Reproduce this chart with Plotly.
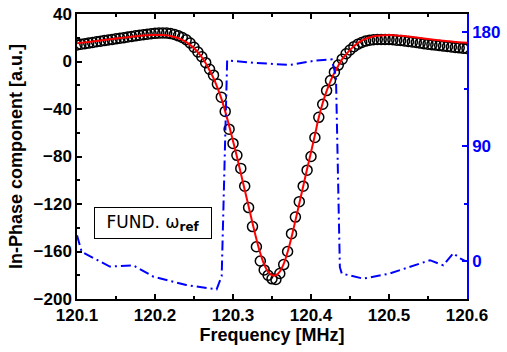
import plotly.graph_objects as go

# Measured frequency sweep (MHz)
freq = [120.100, 120.105, 120.110, 120.115, 120.120, 120.125, 120.130, 120.135, 120.140, 120.145,
        120.150, 120.155, 120.160, 120.165, 120.170, 120.175, 120.180, 120.185, 120.190, 120.195,
        120.200, 120.205, 120.210, 120.215, 120.220, 120.225, 120.230, 120.235, 120.240, 120.245,
        120.250, 120.255, 120.260, 120.265, 120.270, 120.275, 120.280, 120.285, 120.290, 120.295,
        120.300, 120.305, 120.310, 120.315, 120.320, 120.325, 120.330, 120.335, 120.340, 120.345,
        120.350, 120.355, 120.360, 120.365, 120.370, 120.375, 120.380, 120.385, 120.390, 120.395,
        120.400, 120.405, 120.410, 120.415, 120.420, 120.425, 120.430, 120.435, 120.440, 120.445,
        120.450, 120.455, 120.460, 120.465, 120.470, 120.475, 120.480, 120.485, 120.490, 120.495,
        120.500, 120.505, 120.510, 120.515, 120.520, 120.525, 120.530, 120.535, 120.540, 120.545,
        120.550, 120.555, 120.560, 120.565, 120.570, 120.575, 120.580, 120.585, 120.590, 120.595,
        120.600]

# In-phase component, measured (open circles)
inphase = [14.0, 14.5, 15.0, 15.5, 16.0, 16.6, 17.1, 17.6, 18.1, 18.6,
           19.1, 19.6, 20.1, 20.6, 21.1, 21.6, 22.1, 22.6, 23.0, 23.4,
           23.7, 23.9, 24.0, 23.9, 23.5, 22.8, 21.6, 20.2, 18.3, 15.6,
           12.0, 8.0, 4.0, -1.0, -6.5, -11.5, -19.0, -30.0, -42.0, -57.0,
           -69.0, -79.0, -90.0, -105.0, -123.0, -139.0, -156.0, -168.0, -175.5, -180.0,
           -183.0, -183.5, -178.5, -171.0, -160.0, -145.0, -131.0, -118.0, -105.0, -91.5,
           -80.0, -64.0, -47.0, -36.0, -24.5, -16.0, -9.0, -3.0, 2.0, 6.5,
           9.7, 12.5, 14.5, 16.0, 17.2, 17.9, 18.3, 18.5, 18.6, 18.6,
           18.5, 18.3, 18.0, 17.7, 17.3, 16.9, 16.5, 16.0, 15.5, 15.0,
           14.6, 14.2, 13.8, 13.4, 13.0, 12.6, 12.2, 11.8, 11.5, 11.2,
           11.0]

# Fit (red line)
fit = [15.3, 15.7, 16.1, 16.5, 16.9, 17.3, 17.7, 18.1, 18.5, 18.9,
       19.3, 19.7, 20.1, 20.5, 20.9, 21.3, 21.6, 21.9, 22.1, 22.3,
       22.4, 22.4, 22.3, 22.0, 21.5, 20.7, 19.6, 18.2, 16.3, 14.0,
       11.2, 7.7, 3.6, -1.5, -7.5, -14.0, -22.0, -31.0, -42.0, -54.0,
       -67.0, -80.0, -94.0, -108.0, -122.0, -136.0, -149.5, -161.5, -171.0, -177.0,
       -180.0, -180.0, -177.0, -170.5, -160.5, -148.0, -134.0, -119.5, -105.0, -90.5,
       -76.5, -62.0, -47.0, -35.0, -25.0, -16.5, -9.5, -3.5, 2.0, 6.0,
       9.8, 12.9, 15.5, 17.5, 19.0, 20.2, 21.0, 21.6, 22.0, 22.2,
       22.3, 22.2, 22.0, 21.7, 21.4, 21.0, 20.6, 20.2, 19.8, 19.4,
       19.0, 18.6, 18.2, 17.8, 17.4, 17.1, 16.8, 16.5, 16.2, 16.0,
       15.8]

# Phase (blue dash-dot, right axis, degrees)
phase_f = [120.100, 120.106, 120.142, 120.172, 120.198, 120.240, 120.279, 120.2855, 120.2885,
           120.2925, 120.330, 120.350, 120.373, 120.407, 120.4265, 120.432, 120.4355, 120.437,
           120.4395, 120.467, 120.501, 120.5525, 120.5695, 120.5825, 120.591, 120.5975]
phase = [20, 7, -4.5, -3.5, -12.5, -19, -22.5, -12, 60,
         157.5, 155.5, 155, 154, 157.5, 158.3, 145, 50, -5,
         -10, -14, -10, 0.5, -3.5, 6, 2, 0]

x_ticks = [120.1, 120.2, 120.3, 120.4, 120.5, 120.6]
y_ticks = [40, 0, -40, -80, -120, -160, -200]
y2_ticks = [0, 90, 180]

FONT = "Liberation Sans"

fig = go.Figure()
fig.add_trace(go.Scatter(
    x=freq, y=inphase, mode="markers",
    marker=dict(symbol="circle-open", size=10, color="black", line=dict(width=1.5, color="black")),
    showlegend=False))
fig.add_trace(go.Scatter(
    x=freq, y=fit, mode="lines",
    line=dict(color="red", width=2, shape="spline"),
    showlegend=False))
fig.add_trace(go.Scatter(
    x=phase_f, y=phase, mode="lines", yaxis="y2",
    line=dict(color="blue", width=2, dash="10px,4px,2px,4px"),
    showlegend=False))

fig.update_layout(
    width=507, height=352,
    margin=dict(l=77, r=40, t=14, b=53),
    paper_bgcolor="white", plot_bgcolor="white",
    font=dict(family=FONT, color="black"),
    xaxis=dict(
        range=[120.1, 120.6], tickvals=x_ticks, ticktext=[f"{v:.1f}" for v in x_ticks],
        ticks="inside", ticklen=5, tickwidth=1.5, tickcolor="black",
        showline=True, linecolor="black", linewidth=1.5, mirror="ticks",
        minor=dict(dtick=0.05, tick0=120.1, ticks="inside", ticklen=3, tickwidth=1.5, tickcolor="black"),
        showgrid=False, zeroline=False, automargin=False, ticklabeloverflow="allow",
        tickfont=dict(size=17, weight="bold", family=FONT),
        title=dict(text="<b>Frequency [MHz]</b>", font=dict(size=18, family=FONT), standoff=4),
    ),
    yaxis=dict(
        range=[-200, 40], tickvals=y_ticks,
        ticks="inside", ticklen=5, tickwidth=1.5, tickcolor="black",
        showline=True, linecolor="black", linewidth=1.5, mirror=False,
        minor=dict(dtick=20, tick0=0, ticks="inside", ticklen=3, tickwidth=1.5, tickcolor="black"),
        showgrid=False, zeroline=False, automargin=False, ticklabeloverflow="allow",
        tickfont=dict(size=17, weight="bold", family=FONT),
        title=dict(text="<b>In-Phase component [a.u.]</b>", font=dict(size=18, family=FONT), standoff=6),
    ),
    yaxis2=dict(
        overlaying="y", side="right", range=[-30, 194], tickvals=y2_ticks,
        ticks="inside", ticklen=5, tickwidth=1.5, tickcolor="blue",
        showline=True, linecolor="blue", linewidth=1.5,
        minor=dict(dtick=45, tick0=0, ticks="inside", ticklen=3, tickwidth=1.5, tickcolor="blue"),
        showgrid=False, zeroline=False, automargin=False, ticklabeloverflow="allow",
        tickfont=dict(size=17, weight="bold", family=FONT, color="blue"),
    ),
    annotations=[dict(
        xref="paper", yref="paper", x=0.194, y=0.266, xanchor="center", yanchor="middle",
        text="FUND. ω<sub><b>ref</b></sub>", showarrow=False,
        font=dict(size=17, family="DejaVu Sans", color="black"),
        bordercolor="black", borderwidth=1, borderpad=3, bgcolor="white",
        width=110, height=24,
    )],
)

# Remove the default 8 px page margin so the figure fills the 507x352 window exactly.
fig.write_html("out.html", config={"displayModeBar": False},
               post_script="document.body.style.margin='0';")
